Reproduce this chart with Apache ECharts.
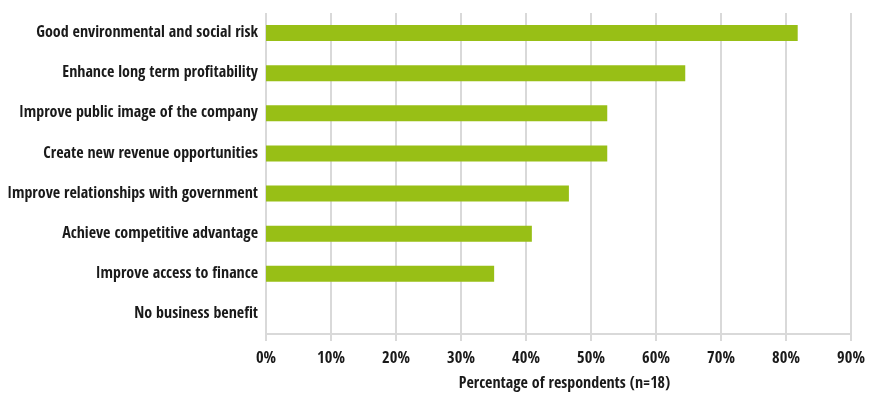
<!DOCTYPE html>
<html><head><meta charset="utf-8">
<script src="https://cdn.jsdelivr.net/npm/echarts@6/dist/echarts.min.js"></script>
<style>html,body{margin:0;padding:0;background:#fff}#c{width:876px;height:396px}</style>
</head><body><div id="c"></div>
<script>
const categories = [
  "Good environmental and social risk",
  "Enhance long term profitability",
  "Improve public image of the company",
  "Create new revenue opportunities",
  "Improve relationships with government",
  "Achieve competitive advantage",
  "Improve access to finance",
  "No business benefit"
];
const values = [81.8, 64.5, 52.5, 52.5, 46.6, 40.9, 35.1, 0];
const xTicks = [0, 10, 20, 30, 40, 50, 60, 70, 80, 90];
const axisTitle = "Percentage of respondents (n=18)";

const FONT = '"Open Sans Condensed", "Roboto Condensed", "DejaVu Sans Condensed", sans-serif';
const chart = echarts.init(document.getElementById('c'), null, {renderer: 'canvas'});
chart.setOption({
  animation: false,
  grid: {left: 266, right: 25, top: 13, bottom: 62, containLabel: false, outerBoundsMode: 'none'},
  xAxis: {
    type: 'value', min: xTicks[0], max: xTicks[xTicks.length - 1], interval: 10,
    name: axisTitle, nameLocation: 'middle', nameGap: 42,
    nameTextStyle: {fontFamily: FONT, fontWeight: 'bold', fontSize: 16, color: '#1a1a1a', padding: [0, 0, 0, 12]},
    axisLine: {show: true, lineStyle: {color: '#d9d9d9', width: 2}},
    axisTick: {show: true, length: 7, lineStyle: {color: '#d9d9d9', width: 2}},
    axisLabel: {fontFamily: FONT, fontWeight: 'bold', fontSize: 16.5, color: '#1a1a1a', margin: 16,
      formatter: v => v + '%'},
    splitLine: {show: true, lineStyle: {color: '#d9d9d9', width: 2}}
  },
  yAxis: {
    type: 'category', data: categories, inverse: true,
    axisLine: {show: false}, axisTick: {show: false},
    axisLabel: {fontFamily: FONT, fontWeight: 'bold', fontSize: 16, color: '#1a1a1a', margin: 8}
  },
  series: [{
    type: 'bar', data: values, barWidth: 16,
    itemStyle: {color: '#98bf16'}
  }]
});
</script></body></html>
